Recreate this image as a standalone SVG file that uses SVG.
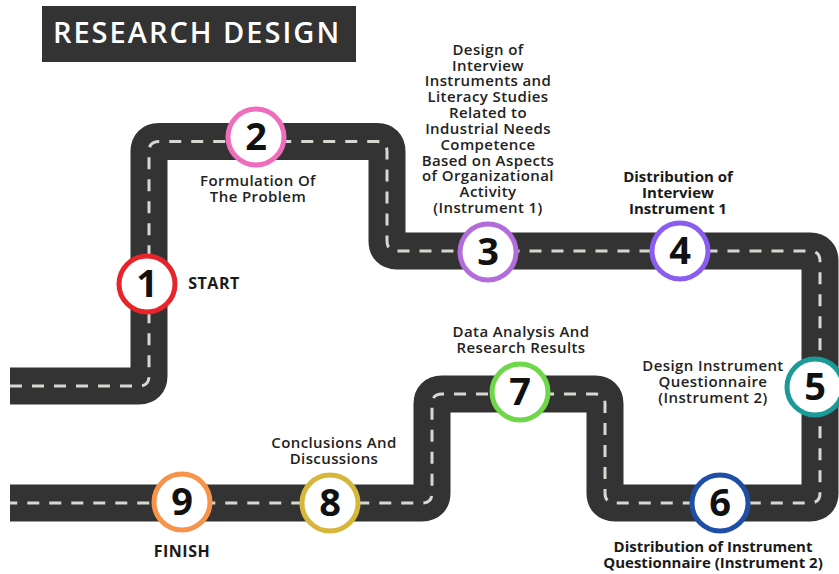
<svg xmlns="http://www.w3.org/2000/svg" width="839" height="574" viewBox="0 0 839 574">
  <defs>
    <style>
      .road { fill: none; stroke: #333333; stroke-width: 37; stroke-linejoin: miter; }
      .lane { fill: none; stroke: #d6d9d0; stroke-width: 3; stroke-dasharray: 12 10; }
      .stop { fill: #ffffff; stroke-width: 5; }
      .num { font-family: "Open Sans", "Liberation Sans", sans-serif; font-weight: 700; font-size: 38px; fill: #111111; text-anchor: middle; }
      .lbl { font-family: "Open Sans", "Liberation Sans", sans-serif; font-weight: 600; font-size: 15px; letter-spacing: 0.4px; fill: #222222; text-anchor: middle; }
      .lbl-b { font-family: "Open Sans", "Liberation Sans", sans-serif; font-weight: 700; font-size: 15px; fill: #1a1a1a; text-anchor: middle; }
      .end { font-size: 16px; letter-spacing: 0.5px; }
    </style>
  </defs>

  <rect width="839" height="574" fill="#ffffff"/>

  <!-- title banner -->
  <g id="title">
    <rect x="42" y="6" width="314" height="56" fill="#333333"/>
    <text x="197" y="43" text-anchor="middle" font-family="'Open Sans', 'Liberation Sans', sans-serif" font-weight="600" font-size="29" letter-spacing="2" fill="#ffffff">RESEARCH DESIGN</text>
  </g>

  <!-- the road with its dashed centre line -->
  <g id="connectors">
    <path id="route" class="road" d="M10,386 H139 Q149,386 149,376 V151.5 Q149,141.5 159,141.5 H377 Q387,141.5 387,151.5 V241 Q387,251 397,251 H810 Q820,251 820,261 V493 Q820,503 810,503 H615 Q605,503 605,493 V404 Q605,394 595,394 H442 Q432,394 432,404 V493 Q432,503 422,503 H10"/>
    <path class="lane" d="M10,386 H139 Q149,386 149,376 V151.5 Q149,141.5 159,141.5 H377 Q387,141.5 387,151.5 V241 Q387,251 397,251 H810 Q820,251 820,261 V493 Q820,503 810,503 H615 Q605,503 605,493 V404 Q605,394 595,394 H442 Q432,394 432,404 V493 Q432,503 422,503 H10"/>
  </g>

  <g id="step1">
    <circle class="stop" cx="147" cy="284" r="28" stroke="#e8232a"/>
    <text class="num" x="147" y="297">1</text>
    <text class="lbl-b end" x="214" y="289">START</text>
  </g>

  <g id="step2">
    <circle class="stop" cx="256" cy="137" r="28" stroke="#f06cbc"/>
    <text class="num" x="256" y="150">2</text>
    <text class="lbl" x="258" y="186">Formulation Of</text>
    <text class="lbl" x="258" y="202">The Problem</text>
  </g>

  <g id="step3">
    <circle class="stop" cx="488" cy="252" r="28" stroke="#b36ddb"/>
    <text class="num" x="488" y="265">3</text>
    <text class="lbl" x="488" y="55">Design of</text>
    <text class="lbl" x="488" y="71">Interview</text>
    <text class="lbl" x="488" y="86">Instruments and</text>
    <text class="lbl" x="488" y="102">Literacy Studies</text>
    <text class="lbl" x="488" y="118">Related to</text>
    <text class="lbl" x="488" y="134">Industrial Needs</text>
    <text class="lbl" x="488" y="150">Competence</text>
    <text class="lbl" x="488" y="166">Based on Aspects</text>
    <text class="lbl" x="488" y="181">of Organizational</text>
    <text class="lbl" x="488" y="197">Activity</text>
    <text class="lbl" x="488" y="213">(Instrument 1)</text>
  </g>

  <g id="step4">
    <circle class="stop" cx="680" cy="251" r="28" stroke="#8a5cf0"/>
    <text class="num" x="680" y="264">4</text>
    <text class="lbl-b" x="678" y="182">Distribution of</text>
    <text class="lbl-b" x="678" y="198">Interview</text>
    <text class="lbl-b" x="678" y="214">Instrument 1</text>
  </g>

  <g id="step5">
    <circle class="stop" cx="815" cy="387" r="28" stroke="#1b9a98"/>
    <text class="num" x="815" y="400">5</text>
    <text class="lbl" x="713" y="371">Design Instrument</text>
    <text class="lbl" x="713" y="387">Questionnaire</text>
    <text class="lbl" x="713" y="403">(Instrument 2)</text>
  </g>

  <g id="step6">
    <circle class="stop" cx="720" cy="503" r="28" stroke="#1f4ea6"/>
    <text class="num" x="720" y="516">6</text>
    <text class="lbl-b" x="713" y="552">Distribution of Instrument</text>
    <text class="lbl-b" x="713" y="568">Questionnaire (Instrument 2)</text>
  </g>

  <g id="step7">
    <circle class="stop" cx="520" cy="392" r="28" stroke="#6fd84a"/>
    <text class="num" x="520" y="405">7</text>
    <text class="lbl" x="521" y="337">Data Analysis And</text>
    <text class="lbl" x="521" y="353">Research Results</text>
  </g>

  <g id="step8">
    <circle class="stop" cx="330" cy="503" r="28" stroke="#d6b73c"/>
    <text class="num" x="330" y="516">8</text>
    <text class="lbl" x="334" y="448">Conclusions And</text>
    <text class="lbl" x="334" y="464">Discussions</text>
  </g>

  <g id="step9">
    <circle class="stop" cx="182" cy="502" r="28" stroke="#f7934b"/>
    <text class="num" x="182" y="515">9</text>
    <text class="lbl-b end" x="182" y="557">FINISH</text>
  </g>
</svg>
